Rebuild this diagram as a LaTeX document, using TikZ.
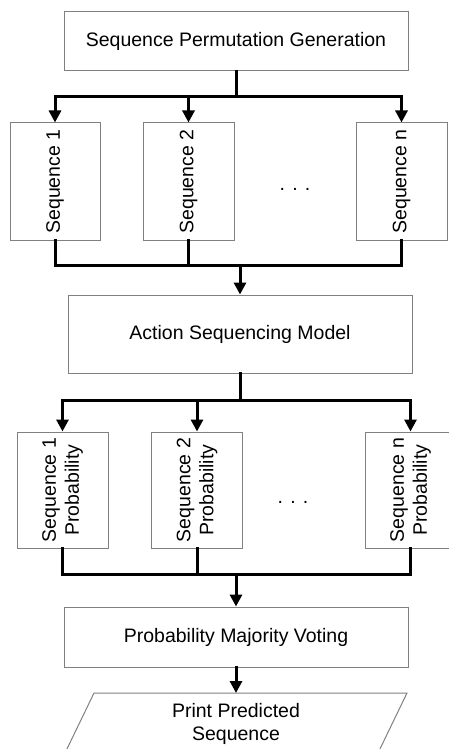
\documentclass[tikz,border=0pt]{standalone}
\usepackage{fontspec}
\setmainfont{Liberation Sans}
\usepackage{tikz}
\usetikzlibrary{arrows.meta,calc}

\begin{document}
\begin{tikzpicture}[x=1pt,y=-1pt,
  font=\fontsize{19.5}{23}\selectfont,
  box/.style={draw=black!50,line width=1pt,fill=white,inner sep=0pt},
  link/.style={line width=3pt,line cap=rect,line join=miter},
  flow/.style={link,-{Triangle[length=12pt,width=12pt]}}]
\useasboundingbox (0,0) rectangle (449,749);
\clip (0,0) rectangle (449,749);

% permutations
\node[box,minimum width=344,minimum height=59] (gen) at (236,41.5) {Sequence Permutation Generation};
\node[box,minimum width=90,minimum height=117] (s1) at (55,181.5) {};
\node[box,minimum width=91,minimum height=117] (s2) at (188.5,181.5) {};
\node[box,minimum width=91,minimum height=117] (sn) at (401.5,181.5) {};
\node[rotate=90] (t1) at (s1) {Sequence 1};
\node[rotate=90] (t2) at (s2) {Sequence 2};
\node[rotate=90] (tn) at (sn) {Sequence n};
\node (d1) at (295,189) {. . .};

\coordinate (b1) at (236,97);
\draw[link] (gen.south) -- (b1);
\draw[flow] (b1) -| (s1.north);
\draw[flow] (b1) -| (s2.north);
\draw[flow] (b1) -| (sn.north);

% model
\node[box,minimum width=344,minimum height=78] (act) at (240,334) {Action Sequencing Model};
\coordinate (b2) at (240,265);
\draw[link] (s1.south) |- (sn.south |- b2) -- (sn.south);
\draw[link] (s2.south) -- (s2.south |- b2);
\draw[flow] (b2) -- (act.north);

% probabilities
\node[box,minimum width=91,minimum height=116] (p1) at (62.5,490) {};
\node[box,minimum width=91,minimum height=116] (p2) at (197,490) {};
\node[box,minimum width=91,minimum height=116] (pn) at (410.5,490) {};
\node[rotate=90,align=center] (q1) at (p1) {Sequence 1\\Probability};
\node[rotate=90,align=center] (q2) at (p2) {Sequence 2\\Probability};
\node[rotate=90,align=center] (qn) at (pn) {Sequence n\\Probability};
\node (d2) at (293,502) {. . .};

\coordinate (b3) at (240,400);
\draw[link] (act.south) -- (b3);
\draw[flow] (b3) -| (p1.north);
\draw[flow] (b3) -| (p2.north);
\draw[flow] (b3) -| (pn.north);

% voting and output
\node[box,minimum width=344,minimum height=60] (vote) at (236,637) {Probability Majority Voting};
\coordinate (b4) at (236,574);
\draw[link] (p1.south) |- (pn.south |- b4) -- (pn.south);
\draw[link] (p2.south) -- (p2.south |- b4);
\draw[flow] (b4) -- (vote.north);

\coordinate (out) at (236,693);
\draw[draw=black!50,line width=1pt] (94,693) -- (407,693) -- (378,753) -- (65,753) -- cycle;
\node[align=center] (print) at (236,723.5) {Print Predicted\\Sequence};
\draw[flow] (vote.south) -- (out);
\end{tikzpicture}
\end{document}
